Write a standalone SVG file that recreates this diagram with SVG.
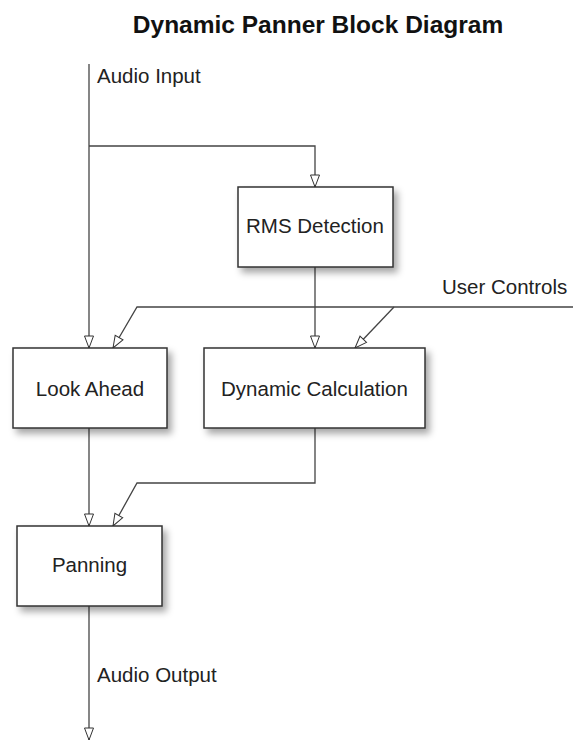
<svg xmlns="http://www.w3.org/2000/svg" width="573" height="740" viewBox="0 0 573 740">
  <defs>
    <filter id="shadow" x="-10%" y="-10%" width="130%" height="140%">
      <feDropShadow dx="4" dy="5" stdDeviation="3.5" flood-color="#000" flood-opacity="0.35"/>
    </filter>
    <marker id="arrow" markerUnits="userSpaceOnUse" markerWidth="14" markerHeight="12" refX="12.5" refY="5" orient="auto" overflow="visible">
      <path d="M0.5,0.5 L12.5,5 L0.5,9.5 Z" fill="#fff" stroke="#333" stroke-width="1"/>
    </marker>
  </defs>
  <style>
    .title { font-family: "Liberation Sans", Arial, sans-serif; font-weight: bold; font-size: 24.5px; fill: #111; }
    .label { font-family: "Liberation Sans", Arial, sans-serif; font-size: 20.5px; fill: #222; }
    .box rect { fill: #fff; stroke: #333; stroke-width: 1.5; }
    .box text { font-family: "Liberation Sans", Arial, sans-serif; font-size: 20.5px; fill: #222; text-anchor: middle; }
    .wire { fill: none; stroke: #444; stroke-width: 1.3; }
    .arrowed { marker-end: url(#arrow); }
  </style>

  <rect width="573" height="740" fill="#fff"/>

  <text class="title" x="318" y="33" text-anchor="middle">Dynamic Panner Block Diagram</text>

  <!-- signal paths -->
  <g id="connectors">
    <path class="wire arrowed" d="M89,64 L89,348"/>
    <path class="wire arrowed" d="M89,146 L315,146 L315,187"/>
    <path class="wire arrowed" d="M315,267 L315,348"/>
    <path class="wire arrowed" d="M573,307 L137,307 L113,348"/>
    <path class="wire arrowed" d="M394,307 L355,348"/>
    <path class="wire arrowed" d="M89,428 L89,526"/>
    <path class="wire arrowed" d="M315,428 L315,483 L137,483 L113,526"/>
    <path class="wire arrowed" d="M89,606 L89,740"/>
  </g>

  <!-- signal labels -->
  <text class="label" x="97" y="83">Audio Input</text>
  <text class="label" x="442" y="294">User Controls</text>
  <text class="label" x="97" y="682">Audio Output</text>

  <g id="rms" class="box">
    <rect x="238" y="187" width="155" height="80" filter="url(#shadow)"/>
    <text x="315" y="233">RMS Detection</text>
  </g>

  <g id="lookahead" class="box">
    <rect x="13" y="348" width="154" height="80" filter="url(#shadow)"/>
    <text x="90" y="396">Look Ahead</text>
  </g>

  <g id="dyncalc" class="box">
    <rect x="204" y="348" width="221" height="80" filter="url(#shadow)"/>
    <text x="314.5" y="396">Dynamic Calculation</text>
  </g>

  <g id="panning" class="box">
    <rect x="17" y="526" width="145" height="80" filter="url(#shadow)"/>
    <text x="89.5" y="572">Panning</text>
  </g>
</svg>
